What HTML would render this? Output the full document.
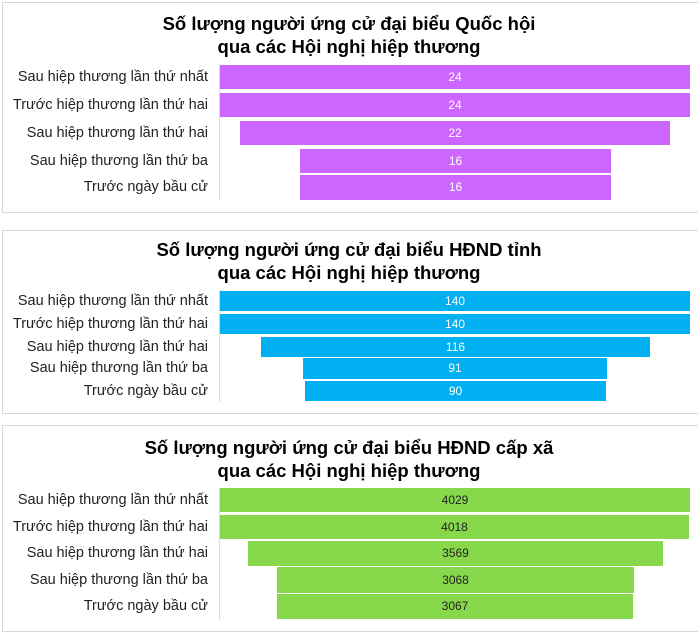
<!DOCTYPE html>
<html><head><meta charset="utf-8"><style>
body{margin:0;width:698px;height:632px;background:#fff;position:relative;overflow:hidden;font-family:"Liberation Sans",Arial,sans-serif}
.p{position:absolute;left:2px;width:700px;border:1px solid #d9d9d9;background:#fff}
.t{position:absolute;left:0;width:698px;text-align:center;font-weight:bold;font-size:18.5px;color:#000;line-height:23px}
.l{position:absolute;right:490px;font-size:14.5px;color:#222;white-space:nowrap;text-align:right}
.b{position:absolute;font-size:12px;color:#fff;text-align:center}
.ax{position:absolute;left:219px;width:1px;background:#d9d9d9}
</style></head><body>
<div class="p" style="top:2px;height:209px"></div>
<div class="t" style="top:12px">Số lượng người ứng cử đại biểu Quốc hội<br>qua các Hội nghị hiệp thương</div>
<div class="ax" style="top:64px;height:137px"></div>
<div class="p" style="top:230px;height:182px"></div>
<div class="t" style="top:238px">Số lượng người ứng cử đại biểu HĐND tỉnh<br>qua các Hội nghị hiệp thương</div>
<div class="ax" style="top:290px;height:112px"></div>
<div class="p" style="top:425px;height:205px"></div>
<div class="t" style="top:436px">Số lượng người ứng cử đại biểu HĐND cấp xã<br>qua các Hội nghị hiệp thương</div>
<div class="ax" style="top:487px;height:133px"></div>
<div id="c"></div>
<script>
var labels=["Sau hiệp thương lần thứ nhất","Trước hiệp thương lần thứ hai","Sau hiệp thương lần thứ hai","Sau hiệp thương lần thứ ba","Trước ngày bầu cử"];
var sets=[
 {c:"#cc66ff",tc:"#fff",rows:[[65,89,220,690,24],[93,117,220,690,24],[121,145,240,670,22],[149,173,300,611,16],[175,200,300,611,16]]},
 {c:"#00b0f0",tc:"#fff",rows:[[291,311,220,690,140],[314,334,220,690,140],[337,357,261,650,116],[358,379,303,607,91],[381,401,305,606,90]]},
 {c:"#88d84c",tc:"#222",rows:[[488,512,220,690,4029],[515,539,220,689,4018],[541,566,248,663,3569],[567,593,277,634,3068],[594,619,277,633,3067]]}
];
var h="";
sets.forEach(function(s){s.rows.forEach(function(r,i){
 var hh=r[1]-r[0];
 h+='<div class="b" style="background:'+s.c+';color:'+s.tc+';left:'+r[2]+'px;top:'+r[0]+'px;width:'+(r[3]-r[2])+'px;height:'+hh+'px;line-height:'+hh+'px">'+r[4]+'</div>';
 h+='<div class="l" style="top:'+r[0]+'px;height:'+hh+'px;line-height:'+hh+'px">'+labels[i]+'</div>';
});});
document.getElementById("c").innerHTML=h;
</script>
</body></html>
